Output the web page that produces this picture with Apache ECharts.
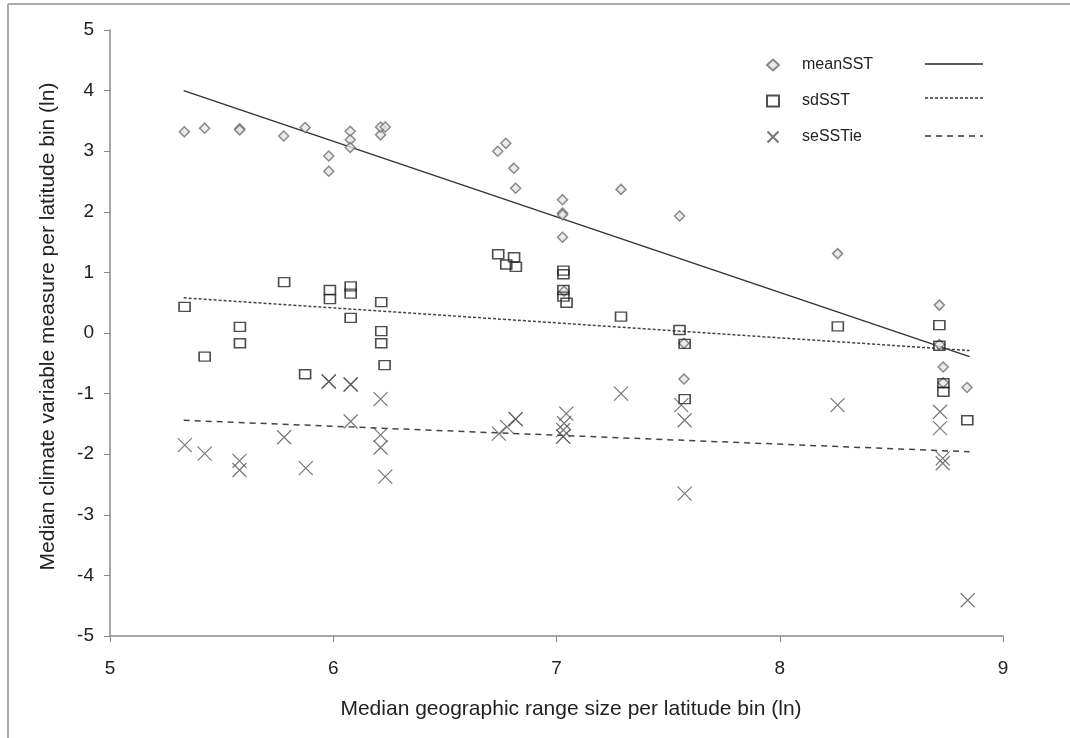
<!DOCTYPE html>
<html><head><meta charset="utf-8">
<script src="https://cdn.jsdelivr.net/npm/echarts@6/dist/echarts.min.js"></script>
<style>html,body{margin:0;padding:0;background:#fff}#c{width:1070px;height:738px}</style>
</head><body><div id="c"></div>
<script>
// meanSST points [x, y]
const meanSST = [
  [5.333,3.32],[5.424,3.38],[5.581,3.37],[5.581,3.35],[5.778,3.25],[5.874,3.39],
  [5.98,2.92],[5.98,2.67],[6.076,3.33],[6.076,3.19],[6.076,3.06],
  [6.212,3.27],[6.212,3.40],[6.233,3.40],
  [6.737,3.00],[6.773,3.13],[6.809,2.72],[6.817,2.39],
  [7.027,2.20],[7.027,1.98],[7.027,1.95],[7.027,1.58],[7.034,0.69],
  [7.289,2.37],[7.551,1.93],[7.571,-0.17],[7.571,-0.76],
  [8.259,1.31],[8.715,0.46],[8.715,-0.19],[8.732,-0.56],[8.732,-0.82],[8.839,-0.90]
];
// sdSST points
const sdSST = [
  [5.334,0.43],[5.424,-0.39],[5.582,0.10],[5.582,-0.17],[5.78,0.84],[5.874,-0.68],
  [5.985,0.71],[5.985,0.56],[6.078,0.77],[6.078,0.65],[6.078,0.25],
  [6.215,0.51],[6.215,0.03],[6.215,-0.17],[6.23,-0.53],
  [6.739,1.30],[6.775,1.13],[6.81,1.25],[6.818,1.09],
  [7.031,1.03],[7.031,0.97],[7.031,0.71],[7.031,0.60],[7.045,0.50],
  [7.289,0.27],[7.551,0.05],[7.574,-0.18],[7.574,-1.09],
  [8.26,0.11],[8.715,0.13],[8.715,-0.21],[8.733,-0.83],[8.733,-0.97],[8.84,-1.44]
];
// seSSTie points
const seSSTie = [
  [5.335,-1.85],[5.424,-1.99],[5.58,-2.11],[5.58,-2.26],[5.78,-1.72],[5.877,-2.23],
  [5.98,-0.80],[5.98,-0.80],[6.078,-0.85],[6.078,-0.85],[6.078,-1.46],
  [6.212,-1.09],[6.212,-1.68],[6.212,-1.89],[6.233,-2.37],
  [6.742,-1.66],[6.778,-1.55],[6.817,-1.42],[6.817,-1.42],
  [7.044,-1.33],[7.034,-1.49],[7.03,-1.60],[7.03,-1.71],[7.03,-1.71],
  [7.289,-1.00],[7.559,-1.19],[7.574,-1.44],[7.574,-2.65],
  [8.259,-1.19],[8.718,-1.30],[8.718,-1.57],[8.73,-2.07],[8.73,-2.15],[8.842,-4.41]
];
// fitted trend line end points
const trendX = [5.33, 8.85];
const meanTrend = [4.00, -0.39];
const sdTrend = [0.58, -0.29];
const seTrend = [-1.44, -1.96];
const seriesNames = ['meanSST','sdSST','seSSTie'];

const pair = (ys) => trendX.map((x,i)=>[x, ys[i]]);
const FONT = 'Liberation Sans';
const chart = echarts.init(document.getElementById('c'));
const xPath = 'path://M0,0L10,10M10,0L0,10';

chart.setOption({
  animation:false,
  backgroundColor:'#fff',
  grid:{left:110, top:30, width:893, height:606},
  xAxis:{type:'value', min:5, max:9, interval:1,
    name:'Median geographic range size per latitude bin (ln)', nameLocation:'middle', nameGap:63,
    nameTextStyle:{fontFamily:FONT, fontSize:21, color:'#222', padding:[0,0,0,29]},
    axisLine:{onZero:false, lineStyle:{color:'#888', width:1.5}},
    axisTick:{show:true, length:6, lineStyle:{color:'#888'}},
    axisLabel:{fontFamily:FONT, fontSize:19, color:'#222', margin:23},
    splitLine:{show:false}},
  yAxis:{type:'value', min:-5, max:5, interval:1,
    name:'Median climate variable measure per latitude bin (ln)', nameLocation:'middle', nameGap:51,
    nameTextStyle:{fontFamily:FONT, fontSize:21, color:'#222', padding:[0,0,0,13]},
    axisLine:{show:true, onZero:false, lineStyle:{color:'#888', width:1.5}},
    axisTick:{show:true, length:6, lineStyle:{color:'#888'}},
    axisLabel:{fontFamily:FONT, fontSize:19, color:'#222', margin:16},
    splitLine:{show:false}},
  legend:{data:seriesNames, orient:'vertical', left:761, top:52, itemGap:20,
    itemWidth:12, itemHeight:11,
    textStyle:{fontFamily:FONT, fontSize:16, color:'#222', padding:[0,0,0,18]}},
  graphic:[
    {type:'line', shape:{x1:8,y1:4,x2:8,y2:738}, style:{stroke:'#aaa', lineWidth:2}},
    {type:'line', shape:{x1:8,y1:4,x2:1070,y2:4}, style:{stroke:'#aaa', lineWidth:2}},
    {type:'line', shape:{x1:925,y1:64,x2:983,y2:64}, style:{stroke:'#222', lineWidth:1.5}},
    {type:'line', shape:{x1:925,y1:98,x2:983,y2:98}, style:{stroke:'#333', lineWidth:1.5, lineDash:[3,2]}},
    {type:'line', shape:{x1:925,y1:136,x2:983,y2:136}, style:{stroke:'#333', lineWidth:1.5, lineDash:[6,5]}}
  ],
  series:[
    {name:'meanTrend', type:'line', data:pair(meanTrend), symbol:'none', z:1,
      lineStyle:{color:'#333', width:1.5, type:'solid'}},
    {name:'sdTrend', type:'line', data:pair(sdTrend), symbol:'none', z:1,
      lineStyle:{color:'#444', width:1.5, type:[3,2]}},
    {name:'seTrend', type:'line', data:pair(seTrend), symbol:'none', z:1,
      lineStyle:{color:'#444', width:1.5, type:[6,5]}},
    {name:'meanSST', type:'scatter', data:meanSST, symbol:'diamond', symbolSize:[10,10], z:3,
      itemStyle:{color:'#e6e6e6', borderColor:'#6e6e6e', borderWidth:1.5}},
    {name:'sdSST', type:'scatter', data:sdSST, symbol:'rect', symbolSize:[11,9], z:3,
      itemStyle:{color:'rgba(255,255,255,0)', borderColor:'#222', borderWidth:1.5}},
    {name:'seSSTie', type:'scatter', data:seSSTie, symbol:xPath, symbolSize:[14,14], z:3,
      itemStyle:{color:'rgba(0,0,0,0)', borderColor:'#555', borderWidth:1.2}}
  ]
});
</script></body></html>
